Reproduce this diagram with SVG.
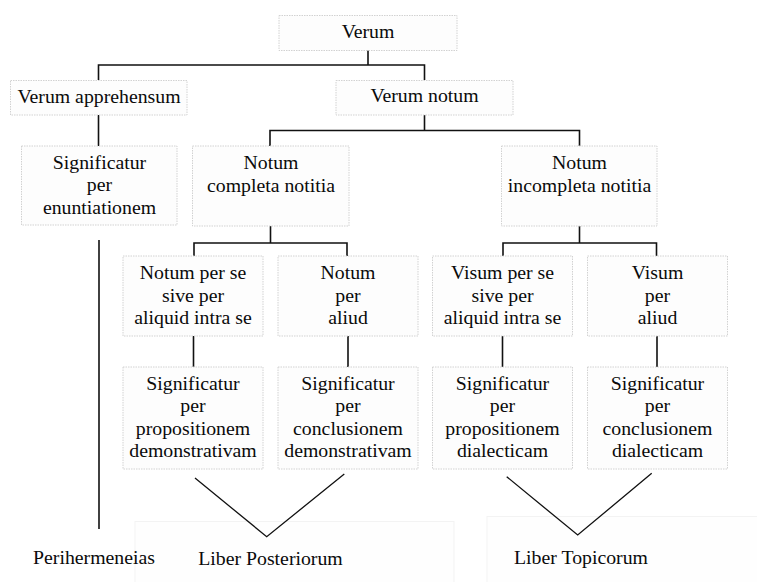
<svg xmlns="http://www.w3.org/2000/svg" width="757" height="582" viewBox="0 0 757 582">
<style>
.bg{fill:#fefefe;stroke:#f3f3f3;stroke-width:1}
.box{fill:#fdfdfd;stroke:#d2d2d2;stroke-width:1;stroke-dasharray:1.5 1}
text{font-family:"Liberation Serif","Times New Roman",serif;font-size:19.8px;fill:#0a0a0a;text-anchor:middle}
.c{fill:none;stroke:#111;stroke-width:1.6}
.v{fill:none;stroke:#111;stroke-width:1.3}
</style>
<rect width="757" height="582" fill="#ffffff"/>
<rect class="bg" x="135" y="521.5" width="319" height="70"/>
<rect class="bg" x="487" y="516.5" width="280" height="75"/>
<g id="connectors">
<path class="c" d="M368 50V65M98.5 80V65H424.5V80"/>
<path class="c" d="M98.5 115V146"/>
<path class="c" d="M424.5 115V130.5M270 146V130.5H579.5V146"/>
<path class="c" d="M270.5 226V243M194 256V243H347V256"/>
<path class="c" d="M579.5 226V243M503 256V243H656.5V256"/>
<path class="c" d="M193.5 336V367M348 336V367M502.5 336V367M657 336V367"/>
<path class="c" d="M99 240V529"/>
<path class="v" d="M195 478L266.7 536.7L344.3 474"/>
<path class="v" d="M506.7 476.7L577.7 535L651.7 473.3"/>
</g>
<g id="verum"><rect class="box" x="279" y="15.5" width="178" height="35"/><text x="368" y="37.5">Verum</text></g>
<g id="verum-apprehensum"><rect class="box" x="10.5" y="80.5" width="176.5" height="34.5"/><text x="99" y="103">Verum apprehensum</text></g>
<g id="verum-notum"><rect class="box" x="336" y="80.5" width="177" height="34.5"/><text x="424.5" y="102">Verum notum</text></g>
<g id="signif-enunt"><rect class="box" x="21.5" y="146" width="155.5" height="79"/><text x="99.5" y="169">Significatur</text><text x="99.5" y="191">per</text><text x="99.5" y="213.5">enuntiationem</text></g>
<g id="notum-completa"><rect class="box" x="192.5" y="146" width="156.5" height="80"/><text x="271" y="168.5">Notum</text><text x="271" y="191.5">completa notitia</text></g>
<g id="notum-incompleta"><rect class="box" x="501.5" y="146" width="155.5" height="80"/><text x="579.5" y="168.5">Notum</text><text x="579.5" y="191.5">incompleta notitia</text></g>
<g id="notum-per-se"><rect class="box" x="123" y="256" width="140" height="80"/><text x="193" y="278.5">Notum per se</text><text x="193" y="301.5">sive per</text><text x="193" y="324">aliquid intra se</text></g>
<g id="notum-per-aliud"><rect class="box" x="278" y="256" width="140" height="80"/><text x="348" y="278.5">Notum</text><text x="348" y="301.5">per</text><text x="348" y="324">aliud</text></g>
<g id="visum-per-se"><rect class="box" x="432.5" y="256" width="140" height="80"/><text x="502.5" y="278.5">Visum per se</text><text x="502.5" y="301.5">sive per</text><text x="502.5" y="324">aliquid intra se</text></g>
<g id="visum-per-aliud"><rect class="box" x="587.5" y="256" width="140" height="80"/><text x="657.5" y="278.5">Visum</text><text x="657.5" y="301.5">per</text><text x="657.5" y="324">aliud</text></g>
<g id="signif-prop-dem"><rect class="box" x="123" y="367" width="140" height="102"/><text x="193" y="389.5">Significatur</text><text x="193" y="412">per</text><text x="193" y="434.5">propositionem</text><text x="193" y="457">demonstrativam</text></g>
<g id="signif-concl-dem"><rect class="box" x="278" y="367" width="140" height="102"/><text x="348" y="389.5">Significatur</text><text x="348" y="412">per</text><text x="348" y="434.5">conclusionem</text><text x="348" y="457">demonstrativam</text></g>
<g id="signif-prop-dial"><rect class="box" x="432.5" y="367" width="140" height="102"/><text x="502.5" y="389.5">Significatur</text><text x="502.5" y="412">per</text><text x="502.5" y="434.5">propositionem</text><text x="502.5" y="457">dialecticam</text></g>
<g id="signif-concl-dial"><rect class="box" x="587.5" y="367" width="140" height="102"/><text x="657.5" y="389.5">Significatur</text><text x="657.5" y="412">per</text><text x="657.5" y="434.5">conclusionem</text><text x="657.5" y="457">dialecticam</text></g>
<g id="perihermeneias"><text x="94" y="563.5">Perihermeneias</text></g>
<g id="liber-posteriorum"><text x="270.5" y="564.5">Liber Posteriorum</text></g>
<g id="liber-topicorum"><text x="581" y="564">Liber Topicorum</text></g>
</svg>
